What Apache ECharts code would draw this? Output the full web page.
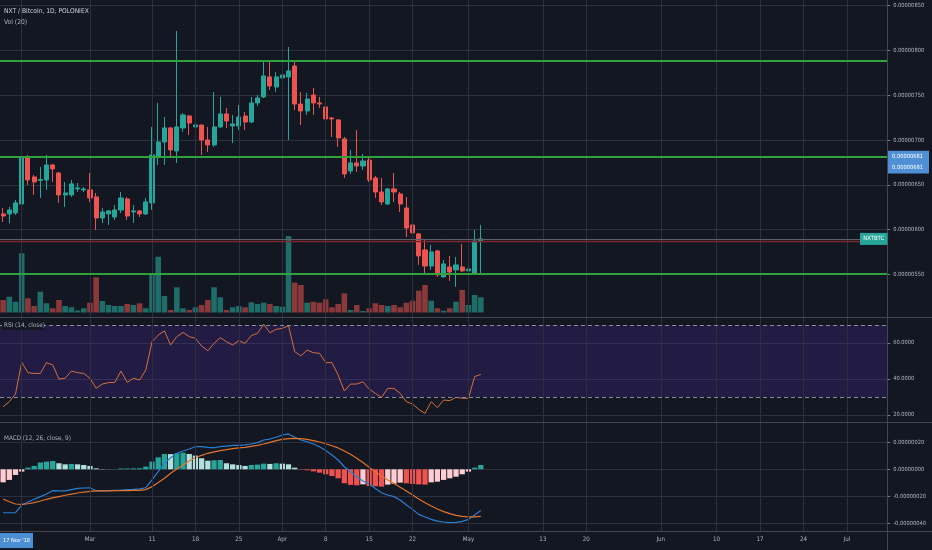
<!DOCTYPE html>
<html>
<head>
<meta charset="utf-8">
<script src="https://cdn.jsdelivr.net/npm/echarts@6/dist/echarts.min.js"></script>
<style>
html,body{margin:0;padding:0;background:#131722;}
#chart{width:932px;height:550px;}
</style>
</head>
<body>
<div id="chart"></div>
<script>
// ---------- data (prices in satoshi = 1e-8 BTC) ----------
const startDate = '2019-02-15';
const dayCount = 143; // Feb 15 .. Jul 7 (axis range)

const openSat = [617.6,617.6,618.7,628.7,680.1,658.9,655.0,655.5,672.3,663.3,
  638.8,638.8,645.5,644.4,644.4,636.6,613.1,617.6,614.2,622.0,
  634.3,619.8,621.0,617.6,629.9,682.3,697.9,713.6,687.9,713.6,
  726.9,714.7,716.9,700.2,694.6,714.7,729.2,715.8,715.8,726.9,
  720.2,741.5,748.2,770.5,759.3,769.4,770.5,782.7,740.3,732.5,
  750.4,741.5,737.0,724.7,722.5,701.3,665.6,674.5,671.1,677.8,
  657.8,642.1,628.7,645.5,639.9,624.3,605.3,595.3,577.4,559.5,
  576.3,547.3,558.4,555.1,558.4,554.0,551.7,587.4];
const highSat = [624.3,625.7,633.2,690.9,683.4,661.1,670.0,683.4,673.4,664.4,
  653.3,655.5,652.2,647.7,663.3,641.0,624.3,622.0,627.6,642.1,
  636.6,627.6,622.0,635.4,714.7,741.5,725.8,714.7,821.8,730.3,
  728.1,720.2,716.9,714.7,753.7,748.2,735.9,728.1,739.2,731.4,
  748.2,750.4,789.4,789.4,776.0,786.1,803.9,787.2,753.7,752.6,
  758.2,748.2,739.2,725.8,723.6,703.5,689.0,711.3,684.5,680.1,
  660.0,657.8,646.6,663.3,642.1,636.6,615.3,596.4,589.7,583.0,
  577.4,566.2,570.7,569.6,584.1,562.9,599.7,605.3];
const lowSat = [608.6,607.2,616.5,622.0,650.0,638.8,635.4,644.4,653.3,629.9,
  625.4,636.6,642.1,642.1,631.0,599.7,607.5,605.3,610.9,618.7,
  610.9,607.5,614.2,616.5,622.0,672.3,672.3,681.2,674.5,709.1,
  705.7,700.2,683.4,686.8,692.4,713.6,713.6,696.8,711.3,711.3,
  719.1,738.1,747.0,756.0,753.7,767.1,700.2,733.6,716.9,728.1,
  728.1,735.9,716.9,703.5,692.4,657.8,662.2,664.4,666.7,653.3,
  635.4,627.6,627.6,631.0,619.8,591.9,594.1,560.7,549.5,555.1,
  547.3,547.3,542.8,536.1,552.8,540.6,551.7,551.7];
const closeSat = [615.3,622.0,629.9,680.1,655.5,653.3,656.1,672.3,667.8,638.8,
  641.0,651.1,646.6,645.5,635.4,613.1,619.8,621.0,622.0,635.4,
  615.3,621.0,617.6,631.0,683.4,697.9,713.6,689.0,714.7,728.1,
  719.1,716.9,700.2,694.6,714.7,729.2,721.4,718.0,725.8,720.2,
  741.5,747.0,771.6,760.4,770.5,772.7,777.2,740.3,732.5,745.9,
  741.5,740.3,723.6,723.6,702.4,662.2,674.5,671.1,676.7,655.5,
  642.1,631.0,645.5,642.1,628.7,601.9,596.4,570.7,559.5,575.2,
  549.5,561.8,552.8,560.7,554.0,556.2,587.4,589.7];
const volumeRel = [12.5,15.8,10.8,59.2,14.2,6.5,20.8,9.2,4.2,12.5,
  6.5,5.2,2.0,4.2,9.8,35.2,11.5,7.5,6.5,6.5,
  8.5,7.5,9.2,4.2,38.2,55.8,16.5,2.5,25.2,4.2,
  2.5,5.2,7.5,12.5,25.2,15.2,2.5,5.2,6.5,5.2,
  10.2,8.5,9.8,8.5,6.5,5.8,76.5,29.8,27.5,9.8,
  10.8,9.8,13.2,5.2,8.5,19.2,2.5,7.5,1.5,4.2,
  9.2,7.5,6.5,7.5,5.2,9.8,11.8,21.8,27.5,11.8,
  4.2,1.8,4.2,10.8,22.5,7.5,17.5,15.2];
const rsi14 = [24.6,27.4,31.7,49.3,43.5,43.1,43.1,49.1,47.8,40.0,
  40.4,44.4,43.5,43.1,40.4,34.8,37.2,38.0,38.1,44.4,
  38.1,40.4,39.4,45.0,60.7,64.4,66.7,58.9,63.5,65.9,
  63.5,62.6,58.3,55.7,59.8,63.0,60.7,58.9,61.3,59.8,
  64.1,65.4,70.4,65.7,67.6,68.1,69.6,55.2,52.8,56.1,
  54.6,54.3,49.1,49.1,42.2,33.3,37.2,37.2,38.5,34.4,
  32.0,29.8,34.8,34.8,32.0,27.4,26.1,23.1,20.9,27.4,
  24.1,28.3,28.0,29.8,29.3,29.3,41.3,42.6];
const macdLine = [-32.3,-32.3,-32.3,-26.6,-24.3,-22.3,-20.3,-18.4,-15.9,-16.1,
  -16.1,-15.1,-14.2,-13.9,-13.7,-15.9,-16.1,-15.9,-15.6,-15.4,
  -15.1,-14.9,-14.6,-13.7,-7.9,-1.8,4.4,8.6,11.9,13.6,
  15.1,16.8,16.8,16.3,16.0,16.8,17.3,17.8,17.8,18.1,
  18.8,19.8,21.8,22.5,23.8,25.5,26.3,23.8,21.8,20.5,
  18.8,16.8,13.9,10.6,6.9,1.9,-1.8,-5.5,-8.7,-10.9,
  -14.2,-17.4,-19.1,-20.3,-22.8,-26.6,-29.8,-33.5,-35.5,-37.2,
  -38.5,-39.2,-39.7,-39.5,-38.7,-37.2,-34.0,-30.7];
const signalLine = [-22.1,-24.1,-25.8,-26.1,-25.6,-24.8,-23.6,-22.3,-21.3,-20.3,
  -19.3,-18.4,-17.6,-16.9,-16.4,-16.1,-16.1,-16.1,-15.9,-15.9,
  -15.9,-15.6,-15.6,-15.1,-12.9,-9.9,-6.7,-3.0,0.2,3.2,
  6.2,8.6,10.4,11.9,12.9,13.9,14.6,15.4,15.9,16.3,
  17.1,17.8,18.8,20.0,21.3,22.3,22.8,23.0,22.8,22.3,
  21.3,20.3,19.0,17.5,15.9,13.6,11.2,8.2,5.0,1.5,
  -2.0,-4.9,-7.9,-10.6,-13.4,-16.1,-19.1,-22.1,-24.8,-27.3,
  -29.5,-31.5,-33.0,-34.3,-35.0,-35.3,-35.3,-35.0];
const macdHist = [-9.7,-7.9,-4.2,-1.7,1.2,2.5,5.0,5.7,6.2,4.5,
  3.7,4.0,3.7,3.2,2.5,0.7,0.2,0.1,0.1,0.6,
  0.6,0.7,0.8,2.0,5.7,8.9,11.4,11.3,11.9,12.4,
  11.4,10.2,8.2,6.4,6.7,6.9,4.5,3.7,3.2,2.5,
  3.2,3.5,4.2,4.0,4.5,4.2,3.7,1.2,-0.25,-0.7,
  -1.5,-2.5,-3.7,-5.0,-6.7,-10.4,-11.6,-11.9,-11.2,-12.4,
  -12.6,-12.9,-11.4,-10.7,-9.9,-10.4,-10.9,-11.2,-11.4,-9.7,
  -9.2,-7.9,-6.7,-5.5,-3.7,-1.7,1.2,3.2];

const levelLines = [788.5, 681, 550.5];   // green horizontal lines (sat)
const redLevel = 586.7;                   // dark red horizontal line (sat)
const rsiBands = [70, 30];
const priceTicks = {min: 500, max: 850, step: 50};
const rsiTicks = {min: 0, max: 80, step: 20};
const macdTicks = {min: -60, max: 40, step: 20};
const gridDates = ['2019-02-18','2019-03-01','2019-03-11','2019-03-18','2019-03-25','2019-04-01',
  '2019-04-08','2019-04-15','2019-04-22','2019-05-01','2019-05-13','2019-05-20','2019-06-01',
  '2019-06-10','2019-06-17','2019-06-24','2019-07-01'];
const labelDates = gridDates.slice(1);
const monthNames = ['Jan','Feb','Mar','Apr','May','Jun','Jul','Aug','Sep','Oct','Nov','Dec'];

// ---------- build ----------
const t0 = Date.parse(startDate + 'T00:00:00Z');
const dates = [];
for (let i = 0; i < dayCount; i++) dates.push(new Date(t0 + i * 864e5).toISOString().slice(0, 10));

const FONT = '"Liberation Sans Narrow", "DejaVu Sans Condensed", "Liberation Sans", sans-serif';
const mctx = document.createElement('canvas').getContext('2d');
function fitSize(text, targetW) { mctx.font = '20px ' + FONT; return +(20 * targetW / mctx.measureText(text).width).toFixed(2); }
const FS_AXIS = fitSize('0.00000850', 31);
const FS_TITLE = fitSize('NXT / Bitcoin, 1D, POLONIEX', 85);
const FS_PANE = fitSize('MACD (12, 26, close, 9)', 67);
const FS_X = fitSize('Mar', 10.5);
const FS_DATE = fitSize("17 Nov '18", 27);
const FS_SYM = fitSize('NXTBTC', 21);

const BG = '#131722';
const GRIDC = '#2c303c';
const LBL = '#b2b5be';
const UP = '#26a69a', DOWN = '#ef5350';
const fmtSat = v => (v / 1e8).toFixed(8);

const L = -3.675, W = 890.9;
const grids = [
  {left: L, width: W, top: 5.7, height: 313.6},   // price
  {left: L, width: W, top: 0, height: 318},       // volume
  {left: L, width: W, top: 307, height: 144},     // RSI
  {left: L, width: W, top: 415.5, height: 134.5}, // MACD
  {left: L, width: W, top: 0, height: 531.5}      // time axis + vertical grid
];
const xAxes = grids.map((g, i) => ({
  type: 'category', gridIndex: i, data: dates, boundaryGap: true,
  show: i === 4,
  axisLine: {show: false}, axisTick: {show: false}, splitLine: {show: false},
  axisLabel: i === 4 ? {
    interval: (idx, val) => labelDates.indexOf(val) >= 0,
    formatter: val => { const d = new Date(val + 'T00:00:00Z'); return d.getUTCDate() === 1 ? monthNames[d.getUTCMonth()] : String(d.getUTCDate()); },
    color: LBL, fontSize: FS_X, fontFamily: FONT, margin: 5
  } : {show: false}
}));
const valAxis = (gi, t, fmt) => ({
  type: 'value', gridIndex: gi, position: 'right', min: t.min, max: t.max, interval: t.step,
  axisLine: {show: false},
  axisTick: {show: true, length: 3, lineStyle: {color: '#787b86'}},
  axisLabel: {color: LBL, fontSize: FS_AXIS, fontFamily: FONT, margin: 6, formatter: fmt, showMinLabel: false, showMaxLabel: gi === 0},
  splitLine: {show: true, lineStyle: {color: GRIDC, width: 1}, showMinLine: false, showMaxLine: gi === 0}
});
const yAxes = [
  valAxis(0, priceTicks, fmtSat),
  {type: 'value', gridIndex: 1, min: -5.5, max: 312.5, show: false, splitLine: {show: false}},
  valAxis(2, rsiTicks, v => v.toFixed(4)),
  valAxis(3, macdTicks, v => fmtSat(v)),
  {type: 'value', gridIndex: 4, min: 0, max: 1, show: false, splitLine: {show: false}}
];

const candleData = openSat.map((o, i) => [o, closeSat[i], lowSat[i], highSat[i]]);
const lastClose = closeSat[closeSat.length - 1];
const hLineSeries = (values, color, width, z) => ({
  type: 'line', xAxisIndex: 0, yAxisIndex: 0, data: [], z: z, silent: true,
  markLine: {silent: true, symbol: 'none', label: {show: false},
    lineStyle: {color: color, width: width, type: 'solid', opacity: 1},
    emphasis: {disabled: true},
    data: values.map(v => ({yAxis: v}))}
});

const option = {
  backgroundColor: BG,
  animation: false,
  grid: grids,
  xAxis: xAxes,
  yAxis: yAxes,
  series: [
    { // vertical date grid lines
      type: 'line', xAxisIndex: 4, yAxisIndex: 4, data: [], z: 1, silent: true,
      markLine: {silent: true, symbol: 'none', label: {show: false},
        lineStyle: {color: GRIDC, width: 1, type: 'solid'},
        data: gridDates.map(d => ({xAxis: d}))}
    },
    {
      type: 'bar', xAxisIndex: 1, yAxisIndex: 1, data: volumeRel, barWidth: '90%', z: 2, silent: true,
      itemStyle: {color: p => closeSat[p.dataIndex] >= openSat[p.dataIndex] ? 'rgba(38,166,154,0.6)' : 'rgba(239,83,80,0.55)'}
    },
    hLineSeries([lastClose], '#5d606b', 1, 2),
    hLineSeries([redLevel], '#7c2730', 1.4, 2),
    hLineSeries(levelLines, '#2fa23e', 1.8, 2),
    {
      type: 'candlestick', xAxisIndex: 0, yAxisIndex: 0, data: candleData, barWidth: 4.6, z: 3, silent: true,
      itemStyle: {color: UP, color0: DOWN, borderColor: UP, borderColor0: DOWN, borderWidth: 1}
    },
    {
      type: 'line', xAxisIndex: 2, yAxisIndex: 2, data: rsi14, symbol: 'none', z: 3, silent: true,
      lineStyle: {color: '#d4713c', width: 1},
      markArea: {silent: true, itemStyle: {color: 'rgba(90,50,190,0.22)'}, data: [[{yAxis: rsiBands[0]}, {yAxis: rsiBands[1]}]]},
      markLine: {silent: true, symbol: 'none', label: {show: false},
        lineStyle: {color: '#8a8d98', width: 1, type: [4, 3]},
        data: rsiBands.map(v => ({yAxis: v}))}
    },
    {
      type: 'bar', xAxisIndex: 3, yAxisIndex: 3, data: macdHist, barWidth: '85%', z: 2, silent: true,
      itemStyle: {color: p => {
        const v = macdHist[p.dataIndex], prev = p.dataIndex > 0 ? macdHist[p.dataIndex - 1] : null;
        if (v >= 0) return (prev === null || v >= prev) ? '#26a69a' : '#b2dfdb';
        return (prev !== null && v <= prev) ? '#ef5350' : '#ffcdd2';
      }}
    },
    {type: 'line', xAxisIndex: 3, yAxisIndex: 3, data: macdLine, symbol: 'none', z: 4, silent: true, lineStyle: {color: '#2b7fd1', width: 1.2}},
    {type: 'line', xAxisIndex: 3, yAxisIndex: 3, data: signalLine, symbol: 'none', z: 4, silent: true, lineStyle: {color: '#e0742c', width: 1.2}}
  ]
};

const chart = echarts.init(document.getElementById('chart'), null, {renderer: 'canvas'});
chart.setOption(option);

const y681 = chart.convertToPixel({yAxisIndex: 0}, levelLines[1]);
const yLast = chart.convertToPixel({yAxisIndex: 0}, lastClose);
const SEP = '#434651';
const txt = (text, x, y, opt) => Object.assign({type: 'text', z: 100, silent: true,
  style: Object.assign({text, x, y, fill: '#d1d4dc', fontSize: FS_PANE, fontFamily: FONT, verticalAlign: 'middle', align: 'left'}, opt || {})});
const hline = y => ({type: 'line', z: 90, silent: true, shape: {x1: 0, y1: y, x2: 932, y2: y}, style: {stroke: SEP, lineWidth: 1}});

chart.setOption({
  graphic: [
    hline(317.5), hline(422.5), hline(531.5),
    {type: 'line', z: 90, silent: true, shape: {x1: 887.5, y1: 0, x2: 887.5, y2: 550}, style: {stroke: SEP, lineWidth: 1}},
    txt('NXT / Bitcoin, 1D, POLONIEX', 4, 11, {fontSize: FS_TITLE}),
    txt('Vol (20)', 4, 22, {fontSize: FS_TITLE, fill: '#b2b5be'}),
    {type: 'rect', z: 99, silent: true, shape: {x: 2, y: 320, width: 42, height: 10}, style: {fill: BG}},
    txt('RSI (14, close)', 4, 325, {fill: '#b2b5be'}),
    txt('MACD (12, 26, close, 9)', 4, 438, {fill: '#b2b5be'}),
    {type: 'rect', z: 99, silent: true, shape: {x: 0, y: 533, width: 33, height: 15}, style: {fill: '#4c8ed4'}},
    txt("17 Nov '18", 16.5, 540.5, {fontSize: FS_DATE, fill: '#ffffff', align: 'center'}),
    {type: 'rect', z: 99, silent: true, shape: {x: 888, y: y681 - 6.3, width: 41, height: 22.6}, style: {fill: '#4f8fd6'}},
    txt(fmtSat(levelLines[1]), 892, y681 - 0.5, {fontSize: FS_AXIS, fill: '#ffffff'}),
    txt(fmtSat(levelLines[1]), 892, y681 + 10.5, {fontSize: FS_AXIS, fill: '#ffffff'}),
    {type: 'rect', z: 99, silent: true, shape: {x: 860, y: yLast - 6, width: 27.5, height: 12}, style: {fill: '#26a69a'}},
    txt('NXTBTC', 873.7, yLast, {fontSize: FS_SYM, fill: '#ffffff', align: 'center'})
  ]
});
</script>
</body>
</html>
